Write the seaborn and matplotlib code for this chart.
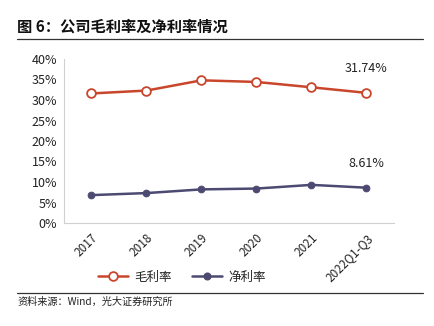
import matplotlib
matplotlib.use("Agg")
import matplotlib.pyplot as plt
import seaborn as sns
import pandas as pd
import numpy as np
from matplotlib.lines import Line2D
from matplotlib.ticker import FuncFormatter

categories = ["2017", "2018", "2019", "2020", "2021", "2022Q1-Q3"]
gross_margin = [31.6, 32.3, 34.8, 34.4, 33.1, 31.74]
net_margin = [6.8, 7.3, 8.2, 8.4, 9.3, 8.61]
series_names = ["毛利率", "净利率"]
yticks = [0, 5, 10, 15, 20, 25, 30, 35, 40]

sns.set_theme(style="white")
plt.rcParams['font.family'] = ['Noto Sans CJK SC', 'DejaVu Sans']

red = "#C9462C"
purple = "#4D4A72"

df = pd.DataFrame({
    "idx": list(range(len(categories))) * 2,
    "val": gross_margin + net_margin,
    "series": [series_names[0]] * len(categories) + [series_names[1]] * len(categories),
})

fig = plt.figure(figsize=(4.35, 3.26), dpi=100)
ax = fig.add_axes([64/435, 1-223/326, 330/435, 164/326])

sns.lineplot(data=df[df.series == series_names[0]], x="idx", y="val", ax=ax,
             color=red, lw=1.8, marker="o", markersize=6.3, markerfacecolor="white",
             markeredgecolor=red, markeredgewidth=1.3, legend=False)
sns.lineplot(data=df[df.series == series_names[1]], x="idx", y="val", ax=ax,
             color=purple, lw=1.8, marker="o", markersize=4.8, markerfacecolor=purple,
             markeredgecolor=purple, legend=False)

ax.set_xlim(-0.5, len(categories) - 0.5)
ax.set_ylim(0, 40)
ax.set_yticks(yticks)
ax.yaxis.set_major_formatter(FuncFormatter(lambda v, p: f"{int(v)}%"))
ax.set_xticks(range(len(categories)))
ax.set_xticklabels(categories, rotation=45, ha="right", rotation_mode="anchor")
ax.set_xticks(np.arange(-0.5, len(categories) + 0.5, 1), minor=True)
ax.tick_params(axis="x", which="major", length=0, labelsize=8.5, pad=6, colors="#222222")
ax.tick_params(axis="x", which="minor", length=3, direction="in", color="#D0D0D0", width=0.8)
ax.tick_params(axis="y", length=3, direction="in", color="#D0D0D0", width=0.8, labelsize=9,
               pad=5)
for lab in ax.get_yticklabels():
    lab.set_color("#222222")
ax.set_xlabel("")
ax.set_ylabel("")
for s in ["top", "right"]:
    ax.spines[s].set_visible(False)
for s in ["left", "bottom"]:
    ax.spines[s].set_color("#D0D0D0")
    ax.spines[s].set_linewidth(0.8)

last = len(categories) - 1
ax.annotate(f"{gross_margin[-1]:.2f}%", (last, gross_margin[-1]), xytext=(0, 13),
            textcoords="offset points", ha="center", va="bottom", fontsize=9, color="#222222")
ax.annotate(f"{net_margin[-1]:.2f}%", (last, net_margin[-1]), xytext=(0, 13),
            textcoords="offset points", ha="center", va="bottom", fontsize=9, color="#222222")

handles = [
    Line2D([], [], color=red, lw=1.8, marker="o", markersize=6.3, markerfacecolor="white",
           markeredgecolor=red, markeredgewidth=1.3),
    Line2D([], [], color=purple, lw=1.8, marker="o", markersize=4.8, markerfacecolor=purple),
]
fig.legend(handles, series_names, loc="center", bbox_to_anchor=(182/435, 1-277/326),
           ncol=2, frameon=False, fontsize=9, handlelength=2.4, columnspacing=1.6,
           handletextpad=0.5)

fig.text(17/435, 1-27/326, "图 6：公司毛利率及净利率情况", fontsize=11, fontweight="bold",
         ha="left", va="center", color="#111111")
fig.add_artist(Line2D([17/435, 423/435], [1-39/326, 1-39/326], color="#333333", lw=0.9))
fig.add_artist(Line2D([17/435, 423/435], [1-293/326, 1-293/326], color="#333333", lw=0.9))
fig.text(17/435, 1-302/326, "资料来源：Wind，光大证券研究所", fontsize=7.3, ha="left", va="center",
         color="#222222")

fig.savefig("out.png", dpi=100, facecolor="white")
